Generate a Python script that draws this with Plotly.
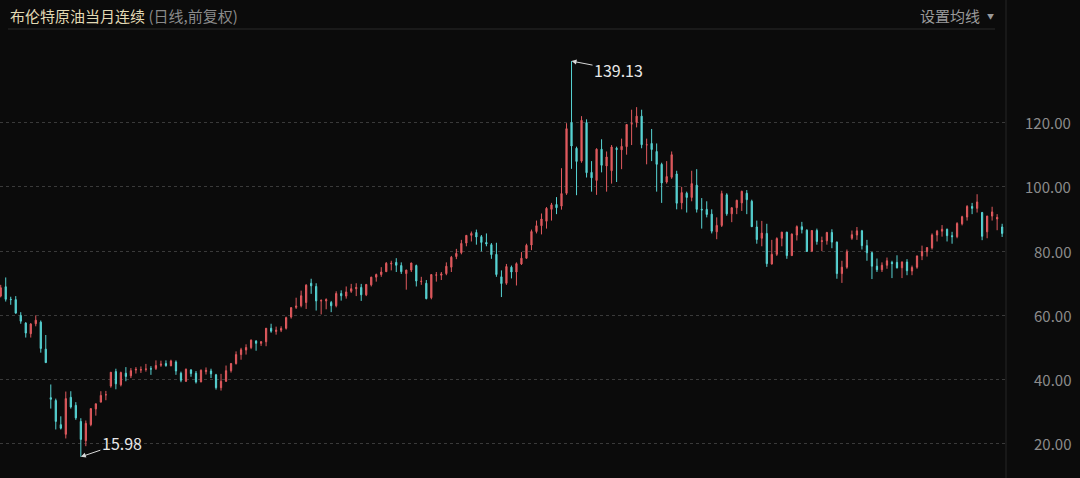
import pandas as pd
import plotly.graph_objects as go

# ---- weekly OHLC (Brent front-month, Jan 2020 - Nov 2023) ----
open_2020 = [66.0, 68.9, 65.0, 64.9, 60.0, 57.6, 54.3, 57.4, 57.9, 49.5, 34.4, 33.5, 26.0,
             23.0, 34.5, 32.0, 27.0, 21.0, 26.0, 30.9, 33.0, 35.3, 38.0, 42.5, 38.4, 42.0,
             41.2, 43.0, 43.0, 43.2, 43.4, 43.5, 44.5, 45.0, 44.3, 45.5, 42.0, 39.5, 43.0,
             42.0, 39.3, 42.5, 42.7, 41.5, 37.5, 39.5, 42.8, 45.0, 47.8, 49.2, 50.0, 52.0, 51.3]
high_2020 = [69.5, 71.8, 65.8, 66.0, 61.0, 57.9, 57.6, 60.0, 58.4, 53.9, 38.5, 34.1, 28.6,
             36.3, 36.4, 33.0, 28.0, 27.3, 31.0, 32.5, 36.4, 36.5, 42.4, 43.4, 42.5, 43.9,
             43.6, 43.9, 44.1, 44.9, 44.2, 46.0, 45.9, 46.0, 46.2, 46.0, 42.5, 43.5, 43.3,
             42.7, 43.2, 43.8, 43.4, 41.8, 41.8, 44.4, 45.2, 48.8, 49.9, 51.0, 52.5, 52.3, 52.0]
low_2020 = [65.6, 64.3, 63.3, 60.6, 57.4, 53.1, 53.1, 56.6, 48.4, 45.2, 31.0, 24.5, 24.5,
            21.7, 31.0, 27.5, 15.98, 19.3, 25.5, 28.8, 33.0, 33.6, 37.5, 37.0, 37.9, 39.5,
            40.5, 41.9, 42.1, 42.5, 41.5, 43.0, 44.0, 44.0, 44.2, 41.5, 39.2, 39.3, 40.9,
            38.8, 39.2, 41.6, 40.5, 36.9, 36.6, 39.3, 42.2, 44.7, 46.2, 47.8, 49.5, 49.0, 50.5]
close_2020 = [68.6, 65.0, 64.9, 60.7, 58.2, 54.5, 57.3, 58.5, 49.7, 45.3, 33.9, 27.0, 24.9,
              34.1, 31.5, 28.1, 21.4, 26.4, 31.0, 32.5, 35.1, 35.3, 42.3, 38.7, 42.2, 41.0,
              42.8, 43.2, 43.1, 43.3, 43.3, 44.4, 44.8, 44.4, 45.8, 42.7, 39.8, 43.2, 41.9,
              39.3, 42.9, 42.9, 41.8, 37.5, 39.5, 42.8, 45.0, 47.8, 49.3, 50.0, 52.3, 51.3, 51.8]

open_2021 = [51.8, 56.0, 55.0, 55.4, 56.0, 59.5, 62.5, 63.0, 64.0, 70.0, 69.0, 64.5, 64.5,
             64.0, 63.0, 66.8, 66.0, 67.5, 68.3, 68.7, 66.4, 69.5, 71.9, 72.7, 73.6, 76.0,
             76.5, 75.5, 73.0, 74.1, 75.5, 70.5, 70.0, 65.5, 72.5, 72.5, 73.0, 75.0, 78.3,
             79.5, 82.5, 84.9, 85.8, 84.5, 82.7, 82.0, 79.0, 72.0, 70.0, 75.0, 73.5, 76.0]
high_2021 = [56.0, 57.4, 56.5, 56.6, 59.6, 62.6, 65.5, 67.7, 69.7, 71.4, 70.0, 65.0, 65.3,
             64.5, 67.5, 67.8, 69.0, 69.8, 70.0, 69.8, 69.8, 72.0, 73.0, 75.0, 76.6, 77.0,
             77.8, 76.5, 74.2, 76.4, 75.8, 72.0, 71.0, 72.8, 73.5, 73.5, 76.5, 78.5, 80.7,
             83.5, 85.0, 86.1, 86.7, 85.0, 85.5, 82.5, 82.6, 74.0, 76.0, 75.5, 76.5, 79.7]
low_2021 = [50.4, 54.6, 54.0, 54.8, 55.6, 59.0, 62.0, 62.5, 62.0, 66.7, 61.5, 60.3, 61.9,
            61.0, 62.5, 64.6, 65.2, 67.0, 66.0, 64.5, 66.0, 69.0, 70.5, 72.0, 73.5, 74.0,
            73.5, 72.9, 68.0, 73.5, 69.0, 69.5, 65.0, 65.0, 70.5, 71.0, 72.5, 73.5, 77.5,
            79.0, 81.5, 83.0, 82.0, 79.9, 81.5, 77.6, 72.0, 65.7, 69.5, 71.5, 69.3, 75.7]
close_2021 = [56.0, 55.1, 55.4, 55.9, 59.3, 62.4, 62.9, 66.1, 69.4, 69.2, 64.5, 64.6, 64.9,
              63.0, 66.8, 66.1, 67.3, 68.3, 68.7, 66.4, 69.6, 71.9, 72.7, 73.5, 76.2, 76.2,
              75.6, 73.6, 74.1, 76.3, 70.7, 70.6, 65.2, 72.7, 72.6, 72.9, 75.3, 78.1, 79.3,
              82.4, 84.9, 85.5, 84.4, 82.7, 82.2, 78.9, 72.7, 69.9, 75.2, 73.5, 76.1, 77.8]

open_2022 = [77.8, 81.9, 86.1, 87.9, 89.3, 93.0, 94.5, 94.0, 98.0, 120.0, 112.0, 108.0, 120.0,
             104.5, 102.0, 111.7, 106.5, 105.0, 112.0, 111.5, 112.5, 119.5, 120.0, 122.0, 113.0,
             113.5, 111.0, 107.0, 101.5, 103.0, 104.0, 95.0, 98.0, 96.7, 100.5, 93.0, 93.0,
             91.5, 86.0, 88.0, 97.5, 91.6, 93.5, 95.0, 98.0, 95.5, 87.5, 84.0, 85.5, 76.0, 79.0, 84.0]
high_2022 = [82.3, 86.7, 89.5, 91.7, 93.7, 95.0, 96.8, 105.8, 119.8, 139.13, 112.5, 122.0, 121.0,
             108.0, 112.0, 114.8, 111.0, 113.0, 112.5, 115.0, 119.5, 124.0, 124.8, 124.0, 115.0,
             118.0, 113.5, 107.5, 108.0, 111.0, 105.0, 100.0, 98.5, 105.0, 105.5, 96.5, 95.5,
             93.0, 90.5, 98.8, 98.0, 93.6, 96.0, 98.8, 99.0, 96.0, 89.5, 89.4, 88.5, 83.5, 84.3, 86.0]
low_2022 = [77.6, 80.3, 85.5, 85.2, 87.0, 89.5, 91.5, 92.9, 97.5, 105.6, 97.4, 107.5, 102.9,
            98.5, 97.5, 104.5, 98.5, 101.0, 101.5, 105.5, 110.0, 113.0, 118.5, 112.0, 107.0,
            108.0, 98.5, 95.0, 101.0, 102.5, 93.0, 93.0, 92.0, 95.5, 92.0, 87.0, 90.5,
            85.5, 83.7, 87.5, 91.0, 89.0, 91.5, 92.5, 91.5, 87.5, 82.3, 81.5, 75.1, 75.8, 78.5, 81.5]
close_2022 = [81.8, 86.1, 87.9, 90.0, 93.3, 94.4, 93.5, 97.9, 118.1, 112.7, 107.9, 120.7, 104.4,
              102.8, 111.7, 106.7, 109.3, 112.4, 111.6, 112.6, 119.4, 119.7, 122.0, 113.1, 113.1,
              111.6, 107.0, 101.2, 103.2, 110.0, 94.9, 98.2, 96.7, 101.0, 93.0, 92.8, 91.4,
              86.2, 88.0, 97.9, 91.6, 93.5, 95.8, 98.6, 96.0, 87.6, 83.6, 85.6, 76.1, 79.0, 83.9, 85.9]

open_2023 = [85.9, 78.6, 85.0, 87.6, 86.5, 80.0, 86.4, 83.0, 83.2, 85.8, 82.8, 73.0, 75.0,
             84.0, 85.0, 86.3, 81.7, 79.5, 75.3, 74.2, 75.6, 76.5, 76.5, 74.8, 76.6, 73.8,
             75.0, 78.5, 79.8, 81.0, 85.0, 86.2, 86.8, 84.8, 84.5, 88.5, 90.6, 93.9, 93.3,
             92.0, 86.0, 90.9, 90.0, 87.5]
high_2023 = [86.0, 85.5, 88.0, 89.1, 86.8, 86.5, 87.0, 84.5, 86.0, 86.8, 83.0, 77.0, 80.5,
             86.4, 87.5, 86.6, 83.5, 79.8, 77.7, 76.5, 78.0, 77.0, 78.7, 76.8, 77.5, 75.5,
             78.6, 81.7, 81.2, 85.5, 86.6, 88.1, 87.0, 86.0, 89.0, 91.0, 94.3, 95.0, 97.7,
             92.2, 91.0, 93.8, 91.5, 88.5]
low_2023 = [77.6, 78.5, 83.3, 85.5, 79.8, 79.7, 82.0, 80.0, 82.0, 80.9, 71.4, 70.1, 74.5,
            83.5, 83.5, 80.5, 77.0, 71.3, 73.5, 73.5, 74.5, 71.6, 74.6, 71.6, 72.5, 72.5,
            74.5, 77.2, 78.3, 80.5, 83.0, 84.5, 83.0, 82.3, 84.0, 88.0, 89.5, 91.5, 92.0,
            83.4, 84.0, 89.5, 86.5, 84.4]
close_2023 = [78.6, 85.3, 87.6, 86.7, 79.9, 86.4, 83.0, 83.2, 85.8, 82.8, 73.0, 75.0, 79.8,
              85.1, 86.3, 81.7, 79.5, 75.3, 74.2, 75.6, 77.0, 76.1, 74.8, 76.6, 73.9, 74.9,
              78.5, 79.9, 81.1, 85.0, 86.2, 86.8, 84.8, 84.5, 88.6, 90.7, 93.9, 93.3, 95.3,
              84.6, 90.9, 92.2, 90.5, 85.5]

opens = open_2020 + open_2021 + open_2022 + open_2023
highs = high_2020 + high_2021 + high_2022 + high_2023
lows = low_2020 + low_2021 + low_2022 + low_2023
closes = close_2020 + close_2021 + close_2022 + close_2023

# one candle per week (mid-week date)
dates = pd.date_range("2020-01-01", periods=len(closes), freq="7D")

y_ticks = [20, 40, 60, 80, 100, 120]
y_tick_labels = ["20.00", "40.00", "60.00", "80.00", "100.00", "120.00"]

title_main = "布伦特原油当月连续"
title_sub = "(日线,前复权)"
ma_button = "设置均线"

UP = "#e05a5e"
DN = "#57d3d3"
BG = "#0b0b0b"
FONT = "Noto Sans CJK SC, Noto Sans, sans-serif"

W, H = 1080, 478
ML, MR, MT, MB = 0, 75, 30, 0
PW = W - ML - MR
PH = H - MT - MB

fig = go.Figure(
    go.Candlestick(
        x=dates, open=opens, high=highs, low=lows, close=closes,
        increasing=dict(line=dict(color=UP, width=1), fillcolor=UP),
        decreasing=dict(line=dict(color=DN, width=1), fillcolor=DN),
        whiskerwidth=0, showlegend=False, hoverinfo="skip",
    )
)

annotations = []
for v, t in zip(y_ticks, y_tick_labels):
    annotations.append(dict(x=1073 / PW, xref="paper", y=v, yref="y", text=t,
                            showarrow=False, xanchor="right", yanchor="middle",
                            font=dict(family=FONT, size=15, color="#8c8c8c")))

# extremes
i_hi = highs.index(max(highs))
i_lo = lows.index(min(lows))
annotations.append(dict(x=dates[i_hi], y=highs[i_hi], xref="x", yref="y",
                        text=f"{highs[i_hi]:.2f}", showarrow=True, ax=47, ay=9,
                        arrowhead=2, arrowsize=1, arrowwidth=1, arrowcolor="#d8d8d8",
                        font=dict(family=FONT, size=16, color="#e8e8e8")))
annotations.append(dict(x=dates[i_lo], y=lows[i_lo], xref="x", yref="y",
                        text=f"{lows[i_lo]:.2f}", showarrow=True, ax=41, ay=-14,
                        arrowhead=2, arrowsize=1, arrowwidth=1, arrowcolor="#d8d8d8",
                        font=dict(family=FONT, size=16, color="#e8e8e8")))

# header
annotations.append(dict(x=8 / PW, y=1 + 15 / PH, xref="paper", yref="paper",
                        xanchor="left", yanchor="middle", showarrow=False,
                        text=f"<span style='color:#e2dab4'>{title_main}</span> "
                             f"<span style='color:#8a8a8a'>{title_sub}</span>",
                        font=dict(family=FONT, size=15)))
annotations.append(dict(x=918 / PW, y=1 + 15 / PH, xref="paper", yref="paper",
                        xanchor="left", yanchor="middle", showarrow=False,
                        text=ma_button, font=dict(family=FONT, size=15, color="#9a9a9a")))
annotations.append(dict(x=990 / PW, y=1 + 14 / PH, xref="paper", yref="paper",
                        xanchor="center", yanchor="middle", showarrow=False,
                        text="▼", font=dict(family=FONT, size=7, color="#9a9a9a")))

shapes = [
    dict(type="line", xref="paper", yref="paper", x0=8 / PW, x1=995 / PW,
         y0=1 + 1 / PH, y1=1 + 1 / PH, line=dict(color="#2a2a2a", width=1)),
    dict(type="line", xref="paper", yref="paper", x0=1006 / PW, x1=1006 / PW,
         y0=0, y1=1 + MT / PH, line=dict(color="#262626", width=1)),
]

fig.update_layout(
    width=W, height=H,
    margin=dict(l=ML, r=MR, t=MT, b=MB),
    paper_bgcolor=BG, plot_bgcolor=BG,
    annotations=annotations, shapes=shapes,
    boxgap=0.65,
    xaxis=dict(range=["2019-12-31", "2023-11-05"], showgrid=False, zeroline=False,
               showticklabels=False, showline=False, ticks="",
               rangeslider=dict(visible=False)),
    yaxis=dict(range=[9.4, 148.8], tickvals=y_ticks, showticklabels=False,
               showgrid=True, gridcolor="#3a3a3a", griddash="dot", gridwidth=1,
               zeroline=False, showline=False, ticks="", side="right"),
    font=dict(family=FONT),
)

fig.write_html("out.html", config={"displayModeBar": False},
               post_script="document.body.style.margin='0';document.body.style.background='#0b0b0b';")
